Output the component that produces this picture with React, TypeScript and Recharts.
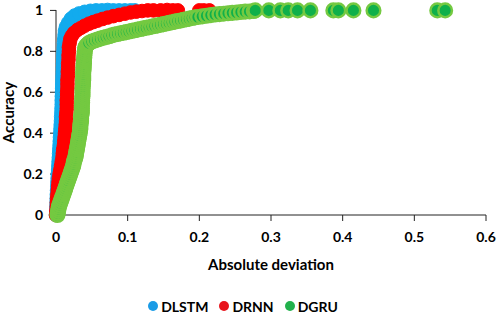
import React from "react";
import { ScatterChart, Scatter, XAxis, YAxis, Legend } from "recharts";

const xTicks = [0, 0.1, 0.2, 0.3, 0.4, 0.5, 0.6];
const yTicks = [0, 0.2, 0.4, 0.6, 0.8, 1];
const seriesOrder = ["DLSTM", "DRNN", "DGRU"];

// [absolute deviation, accuracy]
const dlstm: [number, number][] = [
  [0, 0], [0.0003, 0.02], [0.0005, 0.04], [0.0008, 0.06], [0.001, 0.08], [0.0012, 0.1],
  [0.0015, 0.12], [0.0018, 0.14], [0.002, 0.16], [0.0023, 0.18], [0.0025, 0.2], [0.003, 0.22],
  [0.0033, 0.24], [0.0036, 0.26], [0.004, 0.28], [0.0043, 0.3], [0.0046, 0.32], [0.005, 0.34],
  [0.0053, 0.36], [0.0056, 0.38], [0.006, 0.4], [0.0063, 0.42], [0.0066, 0.44], [0.007, 0.46],
  [0.0072, 0.48], [0.0075, 0.5], [0.0077, 0.52], [0.008, 0.54], [0.008, 0.56], [0.0082, 0.58],
  [0.0084, 0.6], [0.0086, 0.62], [0.0088, 0.64], [0.009, 0.66], [0.0092, 0.68], [0.0094, 0.7],
  [0.0096, 0.72], [0.0098, 0.74], [0.01, 0.76], [0.0102, 0.78], [0.0105, 0.8], [0.0108, 0.82],
  [0.011, 0.84], [0.0115, 0.86], [0.012, 0.88], [0.0125, 0.9], [0.014, 0.92], [0.017, 0.94],
  [0.021, 0.96], [0.026, 0.975], [0.032, 0.985], [0.04, 0.993], [0.048, 0.998], [0.056, 1],
  [0.064, 1], [0.072, 1.002], [0.08, 1], [0.088, 1], [0.096, 1], [0.104, 1], [0.11, 1],
];

const drnn: [number, number][] = [
  [0, 0], [0.0005, 0.02], [0.001, 0.04], [0.0012, 0.06], [0.0015, 0.08], [0.002, 0.1],
  [0.0025, 0.12], [0.003, 0.14], [0.0035, 0.16], [0.004, 0.18], [0.005, 0.2], [0.006, 0.22],
  [0.007, 0.24], [0.008, 0.26], [0.009, 0.28], [0.0095, 0.3], [0.01, 0.32], [0.011, 0.34],
  [0.0115, 0.36], [0.012, 0.38], [0.0125, 0.4], [0.013, 0.42], [0.0135, 0.44], [0.014, 0.46],
  [0.014, 0.48], [0.0145, 0.5], [0.015, 0.52], [0.015, 0.54], [0.015, 0.56], [0.0155, 0.58],
  [0.0155, 0.6], [0.016, 0.62], [0.016, 0.64], [0.016, 0.66], [0.0165, 0.68], [0.0165, 0.7],
  [0.017, 0.72], [0.017, 0.74], [0.0175, 0.76], [0.0175, 0.78], [0.018, 0.8], [0.018, 0.82],
  [0.019, 0.84], [0.02, 0.86], [0.022, 0.875], [0.025, 0.89], [0.03, 0.905], [0.035, 0.915],
  [0.04, 0.925], [0.046, 0.935], [0.052, 0.943], [0.058, 0.95], [0.065, 0.958], [0.072, 0.965],
  [0.08, 0.972], [0.088, 0.978], [0.096, 0.984], [0.104, 0.99], [0.112, 0.994], [0.12, 0.997],
  [0.128, 1], [0.136, 1], [0.146, 1], [0.155, 1.002], [0.163, 1], [0.17, 1],
  [0.2, 1], [0.206, 1], [0.214, 1],
];

const dgru: [number, number][] = [
  [0.002, 0], [0.0025, 0.01], [0.003, 0.02], [0.0035, 0.03], [0.004, 0.04], [0.005, 0.05],
  [0.006, 0.06], [0.007, 0.07], [0.008, 0.08], [0.009, 0.09], [0.01, 0.1], [0.011, 0.11],
  [0.012, 0.12], [0.013, 0.13], [0.014, 0.14], [0.015, 0.15], [0.016, 0.16], [0.017, 0.17],
  [0.018, 0.18], [0.019, 0.19], [0.02, 0.2], [0.021, 0.21], [0.022, 0.22], [0.023, 0.23],
  [0.024, 0.24], [0.0245, 0.25], [0.025, 0.26], [0.026, 0.27], [0.027, 0.28], [0.0275, 0.29],
  [0.028, 0.3], [0.0285, 0.31], [0.029, 0.32], [0.0295, 0.33], [0.03, 0.34], [0.0305, 0.35],
  [0.031, 0.36], [0.0315, 0.37], [0.032, 0.38], [0.0325, 0.39], [0.033, 0.4], [0.0335, 0.41],
  [0.034, 0.42], [0.034, 0.43], [0.034, 0.44], [0.0345, 0.45], [0.035, 0.46], [0.035, 0.47],
  [0.035, 0.48], [0.0355, 0.49], [0.036, 0.5], [0.036, 0.51], [0.036, 0.52], [0.036, 0.53],
  [0.036, 0.54], [0.0365, 0.55], [0.0365, 0.56], [0.0365, 0.57], [0.037, 0.58], [0.037, 0.59],
  [0.037, 0.6], [0.037, 0.61], [0.037, 0.62], [0.0375, 0.63], [0.0375, 0.64], [0.0375, 0.65],
  [0.038, 0.66], [0.038, 0.67], [0.038, 0.68], [0.038, 0.69], [0.038, 0.7], [0.0385, 0.71],
  [0.0385, 0.72], [0.0385, 0.73], [0.039, 0.74], [0.039, 0.75], [0.039, 0.76], [0.0395, 0.77],
  [0.0395, 0.78], [0.04, 0.79], [0.04, 0.8], [0.0405, 0.81], [0.041, 0.82], [0.042, 0.825],
  [0.043, 0.83], [0.0445, 0.835], [0.046, 0.84], [0.05, 0.848], [0.054, 0.853], [0.058, 0.858],
  [0.062, 0.862], [0.066, 0.866], [0.07, 0.87], [0.074, 0.874], [0.078, 0.878], [0.082, 0.882],
  [0.086, 0.885], [0.09, 0.888], [0.094, 0.891], [0.098, 0.894], [0.102, 0.897], [0.106, 0.9],
  [0.11, 0.903], [0.114, 0.906], [0.118, 0.909], [0.122, 0.912], [0.126, 0.915], [0.13, 0.918],
  [0.134, 0.921], [0.138, 0.924], [0.142, 0.927], [0.146, 0.93], [0.15, 0.933], [0.154, 0.936],
  [0.158, 0.939], [0.162, 0.942], [0.166, 0.945], [0.17, 0.948], [0.174, 0.951], [0.178, 0.954],
  [0.182, 0.957], [0.186, 0.96], [0.19, 0.963], [0.194, 0.966], [0.198, 0.968], [0.204, 0.971],
  [0.21, 0.974], [0.216, 0.977], [0.222, 0.98], [0.228, 0.982], [0.234, 0.984], [0.24, 0.986],
  [0.246, 0.988], [0.252, 0.99], [0.258, 0.992], [0.264, 0.994], [0.27, 0.995], [0.276, 0.997],
  [0.278, 1], [0.297, 1], [0.313, 1], [0.324, 1], [0.337, 1], [0.355, 1],
  [0.387, 1], [0.394, 1], [0.415, 1], [0.443, 1], [0.532, 1], [0.543, 1],
];

const toPoints = (rows: [number, number][]) => rows.map(([dev, acc]) => ({ dev, acc }));

const FONT = "Lato, 'Open Sans', sans-serif";

const dot = (fill: string, stroke: string, sw: number) => (p: any) => (
  <circle cx={p.cx} cy={p.cy} r={6.8} fill={fill} stroke={stroke} strokeWidth={sw} />
);

const LegendBox = ({ payload }: any) => {
  const items = [...(payload || [])].sort(
    (a: any, b: any) => seriesOrder.indexOf(a.value) - seriesOrder.indexOf(b.value)
  );
  return (
    <div
      style={{
        display: "flex",
        justifyContent: "center",
        gap: 11,
        fontFamily: FONT,
        fontWeight: 700,
        fontSize: 14,
        color: "#000",
        height: 20,
        alignItems: "center",
        marginTop: 3,
      }}
    >
      {items.map((e: any) => (
        <span key={e.value} style={{ display: "flex", alignItems: "center", gap: 3 }}>
          <span style={{ width: 10, height: 10, borderRadius: 5, background: e.color, display: "inline-block" }} />
          {e.value}
        </span>
      ))}
    </div>
  );
};

export default function App() {
  const tickStyle = { fontFamily: FONT, fontWeight: 700, fontSize: 14, fill: "#000" };
  return (
    <div style={{ position: "absolute", left: 0, top: 0, width: 498, height: 316, background: "#fff" }}>
      <ScatterChart width={498} height={316} margin={{ top: 10, right: 12, bottom: 0, left: 0 }}>
        <XAxis
          dataKey="dev"
          type="number"
          domain={[0, 0.6]}
          ticks={xTicks}
          height={78}
          tickSize={6}
          tickMargin={11}
          stroke="#222"
          tick={tickStyle}
          label={{
            content: ({ viewBox }: any) => (
              <text
                x={viewBox.x + viewBox.width / 2}
                y={viewBox.y + 55}
                textAnchor="middle"
                fontFamily={FONT}
                fontWeight={700}
                fontSize={15}
                fill="#000"
              >
                Absolute deviation
              </text>
            ),
          }}
        />
        <YAxis
          dataKey="acc"
          type="number"
          domain={[0, 1]}
          ticks={yTicks}
          width={56}
          tickSize={6}
          tickMargin={7}
          stroke="#222"
          tick={tickStyle}
          label={{
            content: ({ viewBox }: any) => {
              const cx = 14;
              const cy = viewBox.y + viewBox.height / 2;
              return (
                <text
                  x={cx}
                  y={cy}
                  transform={`rotate(-90 ${cx} ${cy})`}
                  textAnchor="middle"
                  fontFamily={FONT}
                  fontWeight={700}
                  fontSize={15}
                  fill="#000"
                >
                  Accuracy
                </text>
              );
            },
          }}
        />
        <Legend verticalAlign="bottom" content={<LegendBox />} />
        <Scatter
          name="DLSTM"
          data={toPoints(dlstm)}
          fill="#1a9be6"
          shape={dot("#12abee", "#12abee", 1)}
          isAnimationActive={false}
        />
        <Scatter
          name="DRNN"
          data={toPoints(drnn)}
          fill="#e8141c"
          shape={dot("#ff0000", "#ff0000", 1)}
          isAnimationActive={false}
        />
        <Scatter
          name="DGRU"
          data={toPoints(dgru)}
          fill="#22b14c"
          shape={dot("#0fb04a", "#74c941", 2.5)}
          isAnimationActive={false}
        />
      </ScatterChart>
    </div>
  );
}
